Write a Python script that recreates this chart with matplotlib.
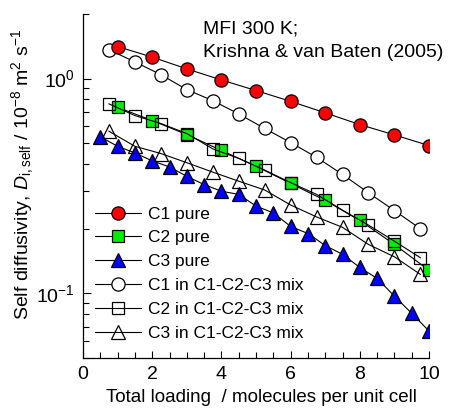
import matplotlib
matplotlib.use("Agg")
import matplotlib.pyplot as plt
from matplotlib.ticker import MultipleLocator, LogLocator, NullFormatter

plt.rcParams['font.family'] = ['Liberation Sans', 'DejaVu Sans']
plt.rcParams['mathtext.fontset'] = 'custom'
plt.rcParams['mathtext.rm'] = 'Liberation Sans'
plt.rcParams['mathtext.it'] = 'Liberation Sans:italic'
plt.rcParams['mathtext.bf'] = 'Liberation Sans:bold'

# ---- data ----
x_pure_12 = [1, 2, 3, 4, 5, 6, 7, 8, 9, 10]
c1_pure = [1.41, 1.26, 1.11, 0.986, 0.88, 0.784, 0.693, 0.611, 0.547, 0.488]
c2_pure = [0.735, 0.638, 0.549, 0.463, 0.391, 0.325, 0.271, 0.2185, 0.169, 0.128]

x_pure_3 = [0.5, 1.0, 1.5, 2.0, 2.5, 3.0, 3.5, 4.0, 4.5, 5.0,
            5.5, 6.0, 6.5, 7.0, 7.5, 8.0, 8.5, 9.0, 9.5, 10.0]
c3_pure = [0.536, 0.484, 0.451, 0.414, 0.388, 0.351, 0.321, 0.299, 0.289, 0.255,
           0.237, 0.205, 0.190, 0.167, 0.152, 0.132, 0.1174, 0.0971, 0.0807, 0.0668]

x_mix = [0.75, 1.5, 2.25, 3.0, 3.75, 4.5, 5.25, 6.0, 6.75, 7.5, 8.25, 9.0, 9.75]
c1_mix = [1.364, 1.196, 1.044, 0.889, 0.790, 0.685, 0.586, 0.504, 0.430, 0.358, 0.294, 0.243, 0.200]
c2_mix = [0.763, 0.673, 0.618, 0.555, 0.471, 0.425, 0.375, 0.328, 0.289, 0.244, 0.208, 0.175, 0.1466]
c3_mix = [0.569, 0.484, 0.448, 0.406, 0.367, 0.333, 0.303, 0.258, 0.227, 0.203, 0.169, 0.148, 0.1226]

labels = ["C1 pure", "C2 pure", "C3 pure",
          "C1 in C1-C2-C3 mix", "C2 in C1-C2-C3 mix", "C3 in C1-C2-C3 mix"]

W, H = 454, 408
fig = plt.figure(figsize=(W / 100, H / 100), dpi=100)
ax = fig.add_axes([83 / W, 1 - 358 / H, (429 - 83) / W, (358 - 14) / H])

lw = 0.8
mew = 0.9
h1m, = ax.plot(x_mix, c1_mix, '-', color='black', lw=lw, marker='o', ms=9.5,
               mfc='white', mec='black', mew=mew, zorder=2)
h1, = ax.plot(x_pure_12, c1_pure, '-', color='black', lw=lw, marker='o', ms=9.5,
              mfc='#ff0000', mec='black', mew=mew, zorder=3)
h2, = ax.plot(x_pure_12, c2_pure, '-', color='black', lw=lw, marker='s', ms=8.5,
              mfc='#00ee00', mec='black', mew=mew, zorder=3)
h2m, = ax.plot(x_mix, c2_mix, '-', color='black', lw=lw, marker='s', ms=8.5,
               mfc='none', mec='black', mew=mew, zorder=4)
h3, = ax.plot(x_pure_3, c3_pure, '-', color='black', lw=lw, marker='^', ms=10,
              mfc='#0000ff', mec='black', mew=mew, zorder=3)
h3m, = ax.plot(x_mix, c3_mix, '-', color='black', lw=lw, marker='^', ms=10,
               mfc='none', mec='black', mew=mew, zorder=4)

ax.set_yscale('log')
ax.set_xlim(0, 10)
ax.set_ylim(0.05, 2.0)

ax.xaxis.set_major_locator(MultipleLocator(2))
ax.xaxis.set_minor_locator(MultipleLocator(0.5))
ax.yaxis.set_major_locator(LogLocator(base=10))
ax.yaxis.set_minor_locator(LogLocator(base=10, subs=[2, 3, 4, 5, 6, 7, 8, 9]))
ax.yaxis.set_minor_formatter(NullFormatter())

for s in ['top', 'right']:
    ax.spines[s].set_visible(False)
for s in ['left', 'bottom']:
    ax.spines[s].set_linewidth(0.9)

ax.tick_params(axis='both', which='both', direction='in', width=0.8, labelsize=14)
ax.tick_params(axis='x', which='major', length=5, pad=6)
ax.tick_params(axis='x', which='minor', length=4)
ax.tick_params(axis='y', which='major', length=6, pad=6)
ax.tick_params(axis='y', which='minor', length=4)

ax.set_xlabel("Total loading  / molecules per unit cell", fontsize=13.5)
ax.xaxis.set_label_coords(0.515, -0.116, transform=ax.transAxes)
ax.xaxis.label.set_va('center')
ax.set_ylabel(r"Self diffusivity, $D_{\rm i,self}$ / 10$^{-8}$ m$^2$ s$^{-1}$",
              fontsize=14)
ax.yaxis.set_label_coords((22.5 - 83) / 346, (358 - 174) / 344, transform=ax.transAxes)
ax.yaxis.label.set_va('center')

fig.text(203 / W, 1 - 34 / H, "MFI 300 K;", fontsize=14, va='baseline', ha='left')
fig.text(203 / W, 1 - 57 / H, "Krishna & van Baten (2005)", fontsize=14,
         va='baseline', ha='left')

leg = ax.legend([h1, h2, h3, h1m, h2m, h3m], labels, loc='lower left',
                bbox_to_anchor=(0.036, 0.05), frameon=False, fontsize=12.5,
                handlelength=2.6, handletextpad=0.4, labelspacing=0.5,
                borderpad=0, borderaxespad=0)

fig.savefig("out.png", dpi=100)
